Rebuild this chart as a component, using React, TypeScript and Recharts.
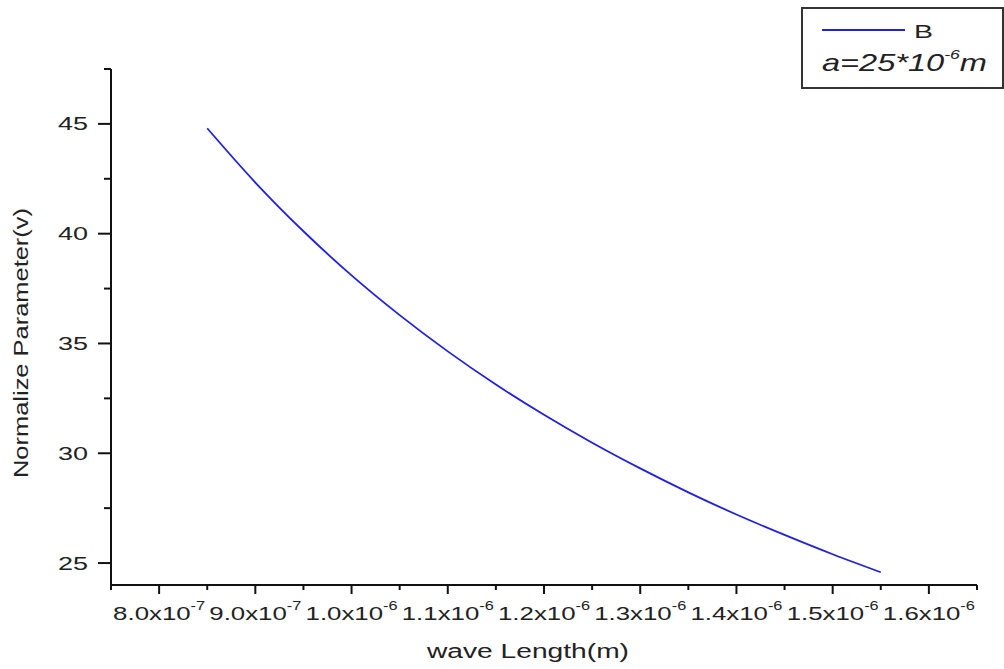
import React from 'react';
import { LineChart, Line, XAxis, YAxis, Legend } from 'recharts';

// wave length (m) and normalized parameter V
const wavelengths = [8.5e-7, 9.0e-7, 9.5e-7, 1.0e-6, 1.05e-6, 1.1e-6, 1.15e-6, 1.2e-6, 1.25e-6, 1.3e-6, 1.35e-6, 1.4e-6, 1.45e-6, 1.5e-6, 1.55e-6];
const vValues = [44.8, 42.33, 40.11, 38.1, 36.29, 34.64, 33.13, 31.75, 30.48, 29.31, 28.22, 27.21, 26.28, 25.4, 24.58];

const xMajorTicks = [8.0e-7, 9.0e-7, 1.0e-6, 1.1e-6, 1.2e-6, 1.3e-6, 1.4e-6, 1.5e-6, 1.6e-6];
const xTickMantissa = ['8.0', '9.0', '1.0', '1.1', '1.2', '1.3', '1.4', '1.5', '1.6'];
const xTickExponent = ['-7', '-7', '-6', '-6', '-6', '-6', '-6', '-6', '-6'];
const xMinorTicks = [7.5e-7, 8.5e-7, 9.5e-7, 1.05e-6, 1.15e-6, 1.25e-6, 1.35e-6, 1.45e-6, 1.55e-6, 1.65e-6];

const yMajorTicks = [25, 30, 35, 40, 45];
const yMinorTicks = [27.5, 32.5, 37.5, 42.5, 47.5];

const data = wavelengths.map((w, i) => ({ w, B: vValues[i] }));

const FONT = '"Liberation Sans", Arial, sans-serif';
const INK = '#111';

const isMajor = (v: number, list: number[]) => list.findIndex((t) => Math.abs(t - v) < 1e-12);

const XTick = (props: any) => {
  const { x, y, payload } = props;
  const idx = isMajor(payload.value, xMajorTicks);
  if (idx < 0) {
    return <line x1={x} x2={x} y1={y} y2={y + 5} stroke={INK} strokeWidth={2} />;
  }
  return (
    <g>
      <line x1={x} x2={x} y1={y} y2={y + 9} stroke={INK} strokeWidth={2} />
      <text
        x={x}
        y={y + 35}
        textAnchor="middle"
        fill="#222"
        fontFamily={FONT}
        textLength={92}
        lengthAdjust="spacingAndGlyphs"
      >
        <tspan fontSize={19}>{xTickMantissa[idx] + 'x10'}</tspan>
        <tspan fontSize={12} dy={-10}>{xTickExponent[idx]}</tspan>
      </text>
    </g>
  );
};

const YTick = (props: any) => {
  const { x, y, payload } = props;
  const idx = isMajor(payload.value, yMajorTicks);
  if (idx < 0) {
    return <line x1={x - 7} x2={x} y1={y} y2={y} stroke={INK} strokeWidth={2} />;
  }
  return (
    <g>
      <line x1={x - 13} x2={x} y1={y} y2={y} stroke={INK} strokeWidth={2} />
      <text
        x={x - 23}
        y={y + 6.5}
        textAnchor="end"
        fill="#222"
        fontFamily={FONT}
        fontSize={18}
        textLength={30}
        lengthAdjust="spacingAndGlyphs"
      >
        {yMajorTicks[idx]}
      </text>
    </g>
  );
};

const LegendBox = (props: any) => {
  const entry = props.payload && props.payload[0];
  return (
    <svg width={203} height={82} style={{ display: 'block' }}>
      <rect x={1} y={1} width={201} height={80} fill="#fff" stroke="#333" strokeWidth={2} />
      <line x1={21} x2={104} y1={23} y2={23} stroke={entry ? entry.color : '#2020e0'} strokeWidth={2} />
      <text x={113} y={31} fontFamily={FONT} fontSize={19} fill="#222" textLength={19} lengthAdjust="spacingAndGlyphs">
        {entry ? entry.value : 'B'}
      </text>
      <text x={21} y={64} fontFamily={FONT} fontStyle="italic" fill="#222" textLength={165} lengthAdjust="spacingAndGlyphs">
        <tspan fontSize={24}>a=25*10</tspan>
        <tspan fontSize={13} dy={-12}>-6</tspan>
        <tspan fontSize={24} dy={12}>m</tspan>
      </text>
    </svg>
  );
};

export default function App() {
  return (
    <div style={{ position: 'absolute', left: 0, top: 0, width: 1004, height: 669, background: '#fff' }}>
      <LineChart width={1004} height={669} data={data} margin={{ top: 69, right: 27, left: 0, bottom: 0 }}>
        <XAxis
          dataKey="w"
          type="number"
          domain={[7.5e-7, 1.65e-6]}
          ticks={[...xMinorTicks, ...xMajorTicks].sort((a, b) => a - b)}
          interval={0}
          height={84}
          tickSize={0}
          tickMargin={0}
          tickLine={false}
          axisLine={{ stroke: INK, strokeWidth: 2 }}
          tick={<XTick />}
          allowDataOverflow
        />
        <YAxis
          type="number"
          domain={[24, 47.5]}
          ticks={[...yMajorTicks, ...yMinorTicks].sort((a, b) => a - b)}
          interval={0}
          width={111}
          tickSize={0}
          tickMargin={0}
          tickLine={false}
          axisLine={{ stroke: INK, strokeWidth: 2 }}
          tick={<YTick />}
          allowDataOverflow
        />
        <Legend
          layout="vertical"
          align="center"
          verticalAlign="middle"
          content={<LegendBox />}
          wrapperStyle={{ left: 801, top: 7, width: 203, height: 82 }}
        />
        <Line
          type="monotone"
          dataKey="B"
          name="B"
          stroke="#2020e0"
          strokeWidth={1.8}
          dot={false}
          isAnimationActive={false}
        />
        <text
          x={20}
          y={343}
          transform="rotate(-90 20 343)"
          textAnchor="middle"
          dominantBaseline="central"
          fontFamily={FONT}
          fontSize={21}
          fill="#222"
          textLength={270}
          lengthAdjust="spacingAndGlyphs"
        >
          Normalize Parameter(v)
        </text>
        <text
          x={528}
          y={658}
          textAnchor="middle"
          fontFamily={FONT}
          fontSize={20}
          fill="#222"
          textLength={202}
          lengthAdjust="spacingAndGlyphs"
        >
          wave Length(m)
        </text>
      </LineChart>
    </div>
  );
}
